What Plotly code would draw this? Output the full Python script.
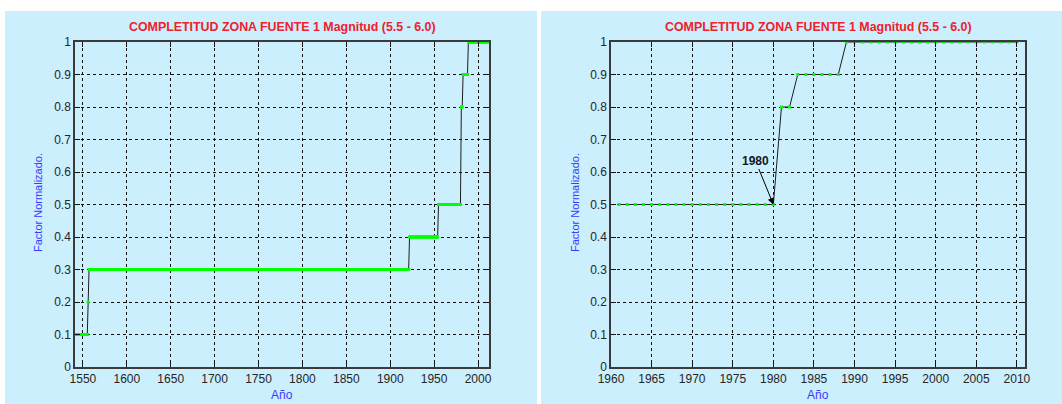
import numpy as np
import plotly.graph_objects as go

# ---- data (step levels) ----
left_start = [1541, 1556, 1557, 1922, 1955, 1981, 1983, 1989]
left_end = [1555, 1556, 1921, 1954, 1980, 1982, 1988, 2012]
left_level = [0.1, 0.2, 0.3, 0.4, 0.5, 0.8, 0.9, 1.0]

right_start = [1961, 1981, 1983, 1989]
right_end = [1980, 1982, 1988, 2010]
right_level = [0.5, 0.8, 0.9, 1.0]

left_ticks = [1550, 1600, 1650, 1700, 1750, 1800, 1850, 1900, 1950, 2000]
right_ticks = [1960, 1965, 1970, 1975, 1980, 1985, 1990, 1995, 2000, 2005, 2010]
y_ticks = [0, 0.1, 0.2, 0.3, 0.4, 0.5, 0.6, 0.7, 0.8, 0.9, 1]
y_ticklabels = ["0", "0.1", "0.2", "0.3", "0.4", "0.5", "0.6", "0.7", "0.8", "0.9", "1"]

title_text = "COMPLETITUD ZONA FUENTE 1 Magnitud (5.5 - 6.0)"
xlabel = "Año"
ylabel = "Factor Normalizado."
annot_year = 1980
annot_level = 0.5


def expand(starts, ends, levels):
    xs, ys = [], []
    for s, e, l in zip(starts, ends, levels):
        for yr in range(s, e + 1):
            xs.append(yr)
            ys.append(l)
    return xs, ys


lx, ly = expand(left_start, left_end, left_level)
rx, ry = expand(right_start, right_end, right_level)

W, H = 1062, 404
FONT = "Liberation Sans, Arial, sans-serif"
BLUE_BG = "#cbeffd"

fig = go.Figure()

trace_style = dict(
    mode="lines+markers",
    line=dict(color="#1e1e1e", width=1),
    marker=dict(symbol="square", size=3, color="#00ff00", line=dict(width=0)),
    cliponaxis=False,
    showlegend=False,
    hoverinfo="x+y",
)
fig.add_trace(go.Scatter(x=lx, y=ly, xaxis="x", yaxis="y", **trace_style))
fig.add_trace(go.Scatter(x=rx, y=ry, xaxis="x2", yaxis="y2", **trace_style))

ydom = [37 / H, 362 / H]
xdom_l = [75 / W, 489 / W]
xdom_r = [611 / W, 1025 / W]

axis_common = dict(
    showline=True,
    linecolor="#3a3a3a",
    linewidth=1.5,
    mirror="ticks",
    ticks="inside",
    ticklen=5,
    tickwidth=1,
    tickcolor="#111111",
    showgrid=True,
    gridcolor="#111111",
    gridwidth=1,
    griddash="3px,3px",
    zeroline=False,
    tickfont=dict(family=FONT, size=12, color="#262626"),
    automargin=False,
    fixedrange=True,
)

fig.update_layout(
    width=W,
    height=H,
    margin=dict(l=0, r=0, t=0, b=0),
    paper_bgcolor="white",
    plot_bgcolor="white",
    font=dict(family=FONT, size=12),
    xaxis=dict(domain=xdom_l, range=[1541, 2012.5], tickmode="array",
               tickvals=left_ticks, anchor="y", **axis_common),
    yaxis=dict(domain=ydom, range=[0, 1], tickmode="array", tickvals=y_ticks,
               ticktext=y_ticklabels, anchor="x", **axis_common),
    xaxis2=dict(domain=xdom_r, range=[1960, 2011], tickmode="array",
                tickvals=right_ticks, anchor="y2", **axis_common),
    yaxis2=dict(domain=ydom, range=[0, 1], tickmode="array", tickvals=y_ticks,
                ticktext=y_ticklabels, anchor="x2", **axis_common),
)

# light-blue panel backgrounds
fig.add_shape(type="rect", xref="paper", yref="paper", x0=5 / W, x1=537 / W,
              y0=0, y1=(H - 11) / H, fillcolor=BLUE_BG, line=dict(width=0), layer="below")
fig.add_shape(type="rect", xref="paper", yref="paper", x0=541 / W, x1=1,
              y0=0, y1=(H - 11) / H, fillcolor=BLUE_BG, line=dict(width=0), layer="below")

annotations = []
for xc, ylab_x in [((75 + 489) / 2, 38), ((611 + 1025) / 2, 575)]:
    annotations.append(dict(
        text="<b>%s</b>" % title_text, xref="paper", yref="paper",
        x=xc / W, y=(H - 27) / H, xanchor="center", yanchor="middle",
        showarrow=False, font=dict(family=FONT, size=12.4, color="#f0202c")))
    annotations.append(dict(
        text=xlabel, xref="paper", yref="paper",
        x=xc / W, y=(H - 395) / H, xanchor="center", yanchor="middle",
        showarrow=False, font=dict(family=FONT, size=12, color="#3a3aff")))
    annotations.append(dict(
        text=ylabel, xref="paper", yref="paper", textangle=-90,
        x=ylab_x / W, y=(H - 203) / H, xanchor="center", yanchor="middle",
        showarrow=False, font=dict(family=FONT, size=11, color="#3a3aff")))

annotations.append(dict(
    text="<b>%d</b>" % annot_year, xref="x2", yref="y2", x=annot_year, y=annot_level,
    ax=-18, ay=-44, showarrow=True, arrowhead=2, arrowsize=1.3, arrowwidth=1,
    arrowcolor="#000000", font=dict(family=FONT, size=12, color="#15152a")))

fig.update_layout(annotations=annotations)

fig.write_html("out.html")
